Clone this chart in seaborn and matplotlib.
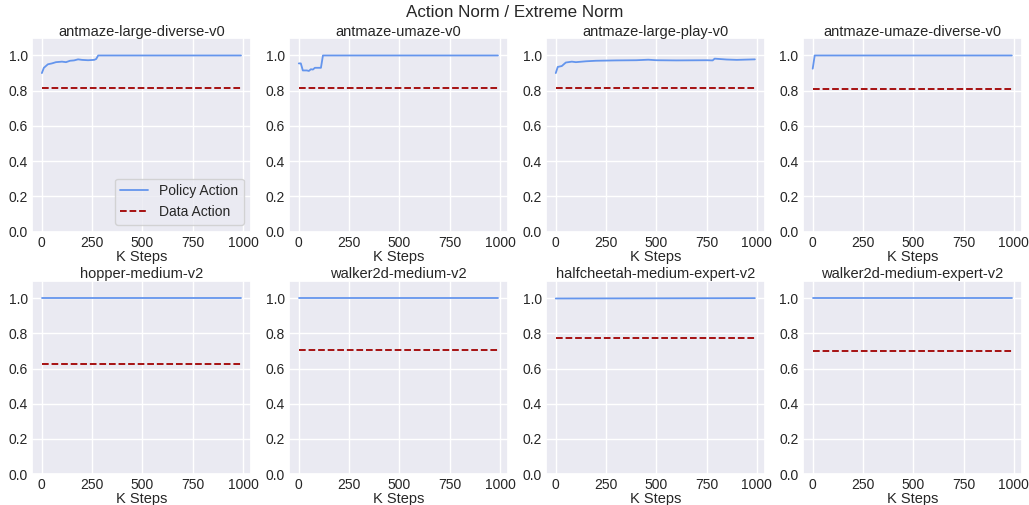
import numpy as np
import pandas as pd
import seaborn as sns
import matplotlib.pyplot as plt

envs = ["antmaze-large-diverse-v0", "antmaze-umaze-v0", "antmaze-large-play-v0",
        "antmaze-umaze-diverse-v0", "hopper-medium-v2", "walker2d-medium-v2",
        "halfcheetah-medium-expert-v2", "walker2d-medium-expert-v2"]

policy_steps = [
    [0, 10, 20, 30, 50, 70, 80, 100, 120, 140, 160, 180, 200, 230, 260, 270, 280, 990],
    [0, 10, 20, 40, 50, 60, 70, 80, 110, 120, 990],
    [0, 10, 30, 50, 80, 100, 150, 200, 300, 400, 460, 500, 600, 750, 780, 790, 850, 900, 990],
    [0, 10, 990],
    [0, 990],
    [0, 990],
    [0, 990],
    [0, 990],
]
policy_vals = [
    [0.90, 0.93, 0.94, 0.95, 0.955, 0.962, 0.963, 0.965, 0.962, 0.97, 0.972, 0.978, 0.975, 0.973, 0.975, 0.98, 1.0, 1.0],
    [0.955, 0.955, 0.915, 0.915, 0.912, 0.922, 0.92, 0.93, 0.93, 1.0, 1.0],
    [0.90, 0.935, 0.94, 0.96, 0.965, 0.962, 0.967, 0.97, 0.972, 0.973, 0.976, 0.973, 0.972, 0.973, 0.972, 0.982, 0.977, 0.975, 0.978],
    [0.925, 1.0, 1.0],
    [1.0, 1.0],
    [1.0, 1.0],
    [0.998, 1.0],
    [1.0, 1.0],
]
# data action norm (constant)
data_vals = [0.815, 0.815, 0.815, 0.81, 0.625, 0.706, 0.775, 0.70]
data_steps = [0, 990]

sns.set_theme(style="darkgrid")
plt.rcParams['font.family'] = ['Liberation Sans', 'DejaVu Sans']

fig, axes = plt.subplots(2, 4, figsize=(10.29, 5.05), dpi=100)
fig.subplots_adjust(left=0.031, right=0.993, top=0.925, bottom=0.061, wspace=0.173, hspace=0.253)

for i, ax in enumerate(axes.flat):
    sns.lineplot(x=policy_steps[i], y=policy_vals[i], ax=ax, color='#6495ED',
                 linewidth=1.3, label='Policy Action')
    sns.lineplot(x=data_steps, y=[data_vals[i]] * 2, ax=ax, color='#a00000',
                 linewidth=1.3, linestyle='--', label='Data Action')
    ax.set_ylim(0, 1.1)
    ax.set_xticks([0, 250, 500, 750, 1000])
    ax.set_yticks([0.0, 0.2, 0.4, 0.6, 0.8, 1.0])
    ax.tick_params(labelsize=10, length=0, pad=3)
    ax.set_title(envs[i], fontsize=10.5, pad=1.5)
    ax.set_xlabel("K Steps", fontsize=10.5, labelpad=0)
    if i == 0:
        ax.legend(loc='lower right', fontsize=10)
    else:
        ax.get_legend().remove()

fig.suptitle("Action Norm / Extreme Norm", fontsize=12.25, y=0.99)
plt.savefig("out.png")
plt.close()
